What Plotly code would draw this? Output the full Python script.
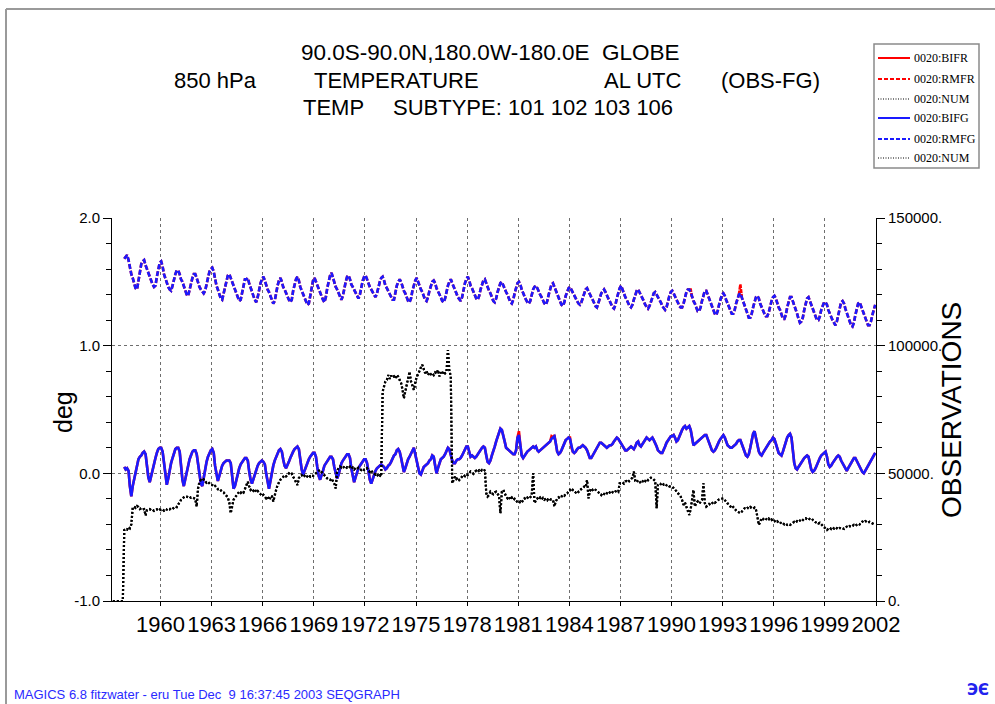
import pandas as pd
import plotly.graph_objects as go

# ---------------- data (monthly, Mar 1957 .. Dec 2001) ----------------
N = None
rmfg = [  # RMS of OBS-FG, deg (0020:RMFG)
    N, N, N, N, N, N, N, N, 1.68, 1.70,
    1.71, 1.67, 1.60, 1.56, 1.53, 1.48, 1.45, 1.44, 1.52, 1.58, 1.64, 1.66,
    1.67, 1.63, 1.60, 1.57, 1.54, 1.50, 1.48, 1.46, 1.47, 1.54, 1.60, 1.65,
    1.66, 1.62, 1.56, 1.52, 1.50, 1.46, 1.44, 1.43, 1.47, 1.52, 1.56, 1.59,
    1.59, 1.56, 1.52, 1.50, 1.46, 1.42, 1.40, 1.39, 1.44, 1.49, 1.53, 1.56,
    1.56, 1.53, 1.49, 1.46, 1.44, 1.42, 1.41, 1.43, 1.49, 1.54, 1.58, 1.60,
    1.61, 1.58, 1.52, 1.47, 1.44, 1.40, 1.37, 1.36, 1.41, 1.47, 1.52, 1.55,
    1.56, 1.53, 1.49, 1.46, 1.43, 1.40, 1.37, 1.35, 1.36, 1.42, 1.48, 1.52,
    1.52, 1.53, 1.49, 1.45, 1.43, 1.39, 1.36, 1.34, 1.38, 1.44, 1.49, 1.52,
    1.54, 1.51, 1.47, 1.44, 1.42, 1.39, 1.36, 1.33, 1.35, 1.42, 1.47, 1.51,
    1.53, 1.50, 1.46, 1.44, 1.41, 1.38, 1.36, 1.34, 1.36, 1.43, 1.48, 1.52,
    1.54, 1.51, 1.46, 1.43, 1.41, 1.38, 1.35, 1.32, 1.33, 1.40, 1.46, 1.51,
    1.53, 1.50, 1.47, 1.44, 1.42, 1.39, 1.36, 1.34, 1.38, 1.45, 1.51, 1.55,
    1.57, 1.53, 1.49, 1.46, 1.44, 1.41, 1.38, 1.36, 1.39, 1.45, 1.50, 1.54,
    1.55, 1.52, 1.48, 1.46, 1.44, 1.41, 1.39, 1.37, 1.40, 1.46, 1.51, 1.54,
    1.55, 1.52, 1.48, 1.46, 1.44, 1.42, 1.39, 1.38, 1.41, 1.46, 1.50, 1.53,
    1.54, 1.51, 1.47, 1.45, 1.43, 1.40, 1.38, 1.36, 1.36, 1.42, 1.47, 1.50,
    1.52, 1.50, 1.46, 1.43, 1.41, 1.38, 1.35, 1.34, 1.37, 1.43, 1.48, 1.51,
    1.53, 1.50, 1.46, 1.44, 1.42, 1.39, 1.36, 1.35, 1.38, 1.43, 1.47, 1.50,
    1.51, 1.49, 1.45, 1.43, 1.41, 1.38, 1.35, 1.34, 1.37, 1.43, 1.47, 1.50,
    1.52, 1.49, 1.46, 1.44, 1.41, 1.38, 1.36, 1.35, 1.38, 1.44, 1.49, 1.52,
    1.54, 1.51, 1.47, 1.45, 1.42, 1.39, 1.37, 1.36, 1.39, 1.44, 1.48, 1.51,
    1.52, 1.49, 1.45, 1.43, 1.41, 1.38, 1.35, 1.34, 1.37, 1.42, 1.46, 1.49,
    1.50, 1.47, 1.44, 1.42, 1.40, 1.37, 1.34, 1.33, 1.36, 1.41, 1.46, 1.49,
    1.50, 1.48, 1.44, 1.41, 1.39, 1.36, 1.34, 1.33, 1.35, 1.40, 1.44, 1.46,
    1.47, 1.45, 1.42, 1.40, 1.38, 1.35, 1.33, 1.32, 1.35, 1.40, 1.45, 1.48,
    1.49, 1.46, 1.43, 1.40, 1.38, 1.35, 1.32, 1.31, 1.34, 1.39, 1.43, 1.45,
    1.46, 1.44, 1.41, 1.39, 1.37, 1.35, 1.33, 1.32, 1.34, 1.38, 1.42, 1.44,
    1.45, 1.43, 1.40, 1.38, 1.36, 1.33, 1.31, 1.30, 1.33, 1.37, 1.41, 1.43,
    1.44, 1.42, 1.39, 1.37, 1.35, 1.32, 1.30, 1.29, 1.32, 1.37, 1.42, 1.45,
    1.47, 1.44, 1.40, 1.38, 1.36, 1.33, 1.31, 1.30, 1.32, 1.36, 1.40, 1.43,
    1.44, 1.42, 1.39, 1.37, 1.35, 1.32, 1.30, 1.29, 1.31, 1.35, 1.39, 1.41,
    1.42, 1.40, 1.37, 1.35, 1.34, 1.31, 1.29, 1.28, 1.30, 1.35, 1.39, 1.42,
    1.43, 1.41, 1.38, 1.36, 1.34, 1.31, 1.30, 1.30, 1.33, 1.38, 1.42, 1.44,
    1.44, 1.42, 1.38, 1.35, 1.33, 1.29, 1.27, 1.27, 1.30, 1.35, 1.40, 1.43,
    1.43, 1.40, 1.36, 1.33, 1.31, 1.27, 1.25, 1.24, 1.27, 1.32, 1.37, 1.40,
    1.41, 1.39, 1.36, 1.33, 1.31, 1.28, 1.25, 1.25, 1.28, 1.33, 1.37, 1.40,
    1.41, 1.38, 1.34, 1.31, 1.28, 1.25, 1.22, 1.22, 1.25, 1.30, 1.35, 1.38,
    1.39, 1.37, 1.33, 1.30, 1.28, 1.25, 1.23, 1.23, 1.26, 1.31, 1.35, 1.38,
    1.39, 1.37, 1.33, 1.30, 1.28, 1.24, 1.21, 1.21, 1.24, 1.30, 1.35, 1.38,
    1.38, 1.35, 1.31, 1.28, 1.25, 1.21, 1.18, 1.19, 1.22, 1.28, 1.33, 1.37,
    1.38, 1.35, 1.31, 1.28, 1.26, 1.22, 1.20, 1.20, 1.23, 1.28, 1.32, 1.34,
    1.34, 1.32, 1.28, 1.25, 1.23, 1.20, 1.18, 1.16, 1.19, 1.25, 1.30, 1.34,
    1.35, 1.33, 1.29, 1.26, 1.23, 1.19, 1.16, 1.15, 1.18, 1.24, 1.29, 1.33,
    1.34, 1.31, 1.27, 1.24, 1.22, 1.19, 1.16, 1.16, 1.19, 1.24, 1.28, 1.32,
]

bifg = [  # mean OBS-FG, deg (0020:BIFG)
    N, N, N, N, N, N, N, N, 0.05, 0.03,
    0.04, 0.02, -0.10, -0.18, -0.10, -0.04, 0.02, 0.08, 0.11, 0.13, 0.14, 0.16,
    0.17, 0.15, 0.06, -0.03, -0.07, -0.02, 0.04, 0.09, 0.12, 0.16, 0.19, 0.20,
    0.20, 0.17, 0.07, -0.04, -0.09, -0.04, 0.03, 0.08, 0.12, 0.16, 0.19, 0.20,
    0.20, 0.17, 0.06, -0.05, -0.10, -0.05, 0.02, 0.07, 0.11, 0.14, 0.17, 0.18,
    0.18, 0.15, 0.08, 0.00, -0.08, -0.10, -0.03, 0.04, 0.09, 0.13, 0.16, 0.18,
    0.19, 0.16, 0.06, -0.02, -0.06, -0.02, 0.03, 0.06, 0.08, 0.09, 0.10, 0.10,
    0.10, 0.08, 0.00, -0.12, -0.10, -0.05, 0.00, 0.04, 0.07, 0.09, 0.11, 0.12,
    0.12, 0.10, 0.02, -0.05, -0.08, -0.04, 0.00, 0.03, 0.06, 0.08, 0.09, 0.10,
    0.09, 0.07, 0.00, -0.08, -0.12, -0.06, 0.01, 0.06, 0.10, 0.13, 0.16, 0.18,
    0.19, 0.17, 0.11, 0.06, 0.04, 0.06, 0.09, 0.12, 0.15, 0.17, 0.19, 0.20,
    0.21, 0.19, 0.11, 0.03, -0.01, 0.02, 0.06, 0.09, 0.11, 0.13, 0.15, 0.16,
    0.16, 0.13, 0.05, -0.02, -0.05, -0.02, 0.02, 0.06, 0.08, 0.10, 0.12, 0.13,
    0.13, 0.11, 0.05, -0.01, -0.04, -0.01, 0.04, 0.08, 0.10, 0.12, 0.14, 0.15,
    0.15, 0.12, 0.04, -0.03, -0.07, -0.03, 0.01, 0.04, 0.06, 0.08, 0.10, 0.11,
    0.11, 0.08, 0.02, -0.05, -0.08, -0.04, -0.01, 0.02, 0.04, 0.05, 0.06, 0.07,
    0.06, 0.05, 0.03, 0.04, 0.06, 0.07, 0.09, 0.12, 0.14, 0.15, 0.18, 0.19,
    0.17, 0.12, 0.05, 0.01, 0.04, 0.08, 0.11, 0.13, 0.15, 0.18, 0.20, 0.15,
    0.10, 0.05, 0.00, -0.01, 0.02, 0.05, 0.06, 0.07, 0.08, 0.10, 0.11, 0.14,
    0.13, 0.06, 0.00, 0.04, 0.08, 0.11, 0.12, 0.13, 0.15, 0.18, 0.20, 0.19,
    0.14, 0.10, 0.08, 0.08, 0.10, 0.11, 0.11, 0.12, 0.14, 0.16, 0.19, 0.21,
    0.21, 0.17, 0.13, 0.14, 0.13, 0.12, 0.13, 0.15, 0.16, 0.18, 0.20, 0.21,
    0.20, 0.14, 0.09, 0.08, 0.10, 0.14, 0.17, 0.21, 0.25, 0.29, 0.33, 0.35,
    0.34, 0.30, 0.25, 0.20, 0.19, 0.18, 0.17, 0.16, 0.15, 0.15, 0.18, 0.28,
    0.30, 0.22, 0.14, 0.12, 0.14, 0.16, 0.17, 0.18, 0.19, 0.20, 0.21, 0.20,
    0.21, 0.18, 0.17, 0.18, 0.19, 0.20, 0.21, 0.22, 0.23, 0.24, 0.25, 0.27,
    0.28, 0.29, 0.24, 0.17, 0.15, 0.16, 0.18, 0.21, 0.24, 0.26, 0.27, 0.28,
    0.27, 0.20, 0.17, 0.16, 0.17, 0.19, 0.20, 0.20, 0.21, 0.22, 0.21, 0.20,
    0.18, 0.14, 0.12, 0.12, 0.14, 0.17, 0.19, 0.21, 0.22, 0.24, 0.24, 0.23,
    0.22, 0.21, 0.20, 0.21, 0.22, 0.22, 0.23, 0.25, 0.27, 0.28, 0.27, 0.25,
    0.24, 0.21, 0.19, 0.18, 0.18, 0.19, 0.20, 0.21, 0.20, 0.19, 0.21, 0.24,
    0.25, 0.22, 0.21, 0.23, 0.25, 0.27, 0.28, 0.27, 0.26, 0.27, 0.28, 0.26,
    0.24, 0.21, 0.18, 0.17, 0.16, 0.16, 0.18, 0.21, 0.24, 0.26, 0.28, 0.29,
    0.29, 0.30, 0.28, 0.25, 0.26, 0.29, 0.32, 0.34, 0.36, 0.37, 0.35, 0.36,
    0.37, 0.34, 0.27, 0.22, 0.23, 0.24, 0.25, 0.26, 0.27, 0.28, 0.29, 0.30,
    0.30, 0.27, 0.23, 0.20, 0.18, 0.17, 0.18, 0.20, 0.23, 0.25, 0.27, 0.29,
    0.30, 0.28, 0.25, 0.22, 0.21, 0.20, 0.20, 0.21, 0.22, 0.23, 0.25, 0.26,
    0.26, 0.23, 0.19, 0.16, 0.14, 0.13, 0.15, 0.20, 0.26, 0.31, 0.33, 0.28,
    0.22, 0.17, 0.15, 0.14, 0.16, 0.18, 0.20, 0.22, 0.23, 0.25, 0.26, 0.28,
    0.27, 0.23, 0.19, 0.16, 0.15, 0.14, 0.17, 0.21, 0.25, 0.28, 0.30, 0.31,
    0.28, 0.18, 0.08, 0.04, 0.03, 0.05, 0.07, 0.09, 0.11, 0.12, 0.13, 0.14,
    0.13, 0.08, 0.03, 0.01, 0.02, 0.04, 0.07, 0.10, 0.12, 0.14, 0.15, 0.16,
    0.17, 0.13, 0.07, 0.05, 0.06, 0.08, 0.10, 0.12, 0.13, 0.14, 0.13, 0.10,
    0.08, 0.05, 0.03, 0.02, 0.04, 0.06, 0.08, 0.10, 0.12, 0.12, 0.10, 0.08,
    0.06, 0.03, 0.01, 0.00, 0.02, 0.04, 0.06, 0.08, 0.10, 0.12, 0.14, 0.16,
]

num_obs = [  # number of observations (0020:NUM), right axis
    0, 0, 0, 0, 0, 0, 0, 0, 27800, 28300,
    28000, 29000, 28500, 30000, 36500, 37000, 36500, 37200, 36800, 36000, 36300, 35800,
    36000, 33500, 35500, 35800, 36000, 35500, 35700, 35300, 35600, 35900, 35400, 35800,
    35600, 35900, 35400, 36000, 35800, 36200, 35900, 36400, 36100, 36600, 37000, 36800,
    38000, 39000, 39600, 40200, 40600, 41000, 40900, 40500, 40800, 40400, 40600, 40200,
    40000, 37000, 44000, 46700, 47400, 47000, 47600, 46800, 46300, 46700, 45900, 45500,
    45400, 44800, 45100, 44300, 43800, 44000, 43300, 42800, 42500, 42000, 41200, 40500,
    38500, 34400, 37500, 39600, 40500, 41200, 42000, 42800, 42300, 43000, 42500, 44000,
    45500, 46700, 45000, 43500, 44000, 43200, 43800, 42600, 43100, 42500, 41800, 42300,
    41500, 41000, 40200, 40800, 39600, 40500, 41200, 39000, 41800, 43500, 45400, 46500,
    47500, 48000, 48500, 49200, 48800, 49500, 50000, 49400, 49800, 48600, 47800, 46500,
    45400, 48200, 48800, 49300, 48500, 49000, 48300, 48900, 49400, 48700, 49200, 49000,
    49400, 50000, 50500, 51000, 51300, 50500, 49800, 49200, 48500, 48000, 47600, 47400,
    48000, 47000, 46000, 44100, 51000, 52000, 52600, 52300, 52800, 52200, 51800, 52400,
    52000, 52600, 51900, 52300, 51500, 52100, 51700, 52200, 51600, 51300, 51800, 51300,
    51500, 52000, 51000, 50600, 51200, 50200, 50000, 49500, 49800, 48700, 49200, 48700,
    82000, 84000, 86000, 86600, 88500, 87000, 88300, 87500, 88000, 87200, 88500, 87800,
    86500, 85300, 83000, 79400, 82000, 85000, 87500, 89800, 86000, 84000, 82700, 85500,
    87900, 88800, 90500, 91500, 92500, 90500, 89200, 90000, 88500, 89500, 88800, 89300,
    88500, 89500, 89000, 90500, 88000, 89500, 88800, 90000, 89200, 89800, 98300, 90500,
    87900, 46100, 47500, 48700, 47800, 48300, 47400, 48200, 48800, 49400, 48900, 49600,
    49400, 50000, 50700, 50300, 49800, 50600, 51000, 50500, 51200, 50700, 51300, 50900,
    51300, 42200, 40900, 41500, 42800, 42200, 41800, 42500, 42800, 42000, 41200, 34400,
    42800, 43500, 42000, 41000, 40200, 40800, 39800, 40500, 39500, 40000, 39200, 38800,
    38300, 39000, 38600, 39500, 40200, 39800, 40500, 40000, 40800, 41200, 50000, 38300,
    39500, 40200, 39600, 40500, 39800, 40400, 39700, 40100, 39500, 40300, 39800, 39600,
    39600, 37000, 39000, 40000, 40600, 40200, 41000, 41500, 41200, 42000, 42200, 43000,
    43500, 42800, 43500, 43000, 42500, 43200, 42700, 43400, 43800, 44300, 44800, 44500,
    47400, 40200, 43000, 44100, 43500, 44000, 43600, 43100, 42600, 42000, 41500, 42300,
    42000, 41500, 42200, 41800, 42500, 42000, 42600, 42300, 42900, 43200, 42800, 46100,
    46100, 46500, 46000, 46800, 47000, 46500, 47200, 47800, 48300, 50700, 47000, 46500,
    47300, 46800, 46100, 46700, 47500, 47000, 47800, 47300, 47900, 48300, 48100, 47600,
    47000, 36300, 45500, 46100, 45800, 46300, 45600, 45900, 45300, 45500, 44900, 44800,
    44800, 44200, 43800, 43000, 42300, 41500, 40900, 39500, 37600, 38500, 37000, 35500,
    33700, 36000, 39600, 43500, 37000, 38500, 39000, 38200, 38800, 39500, 46100, 38300,
    37000, 37500, 38000, 37600, 38300, 38800, 38400, 39000, 39400, 39800, 40000, 40200,
    40200, 39500, 38800, 38200, 37800, 37200, 36300, 36800, 36000, 35500, 35000, 34600,
    34400, 35000, 35800, 36300, 36000, 36500, 36200, 36800, 36400, 36100, 36600, 35800,
    33000, 29800, 31000, 32400, 32000, 32600, 32200, 31800, 32300, 31500, 31900, 31100,
    31400, 30800, 31200, 30600, 30900, 30200, 30500, 30000, 30300, 29800, 30100, 29800,
    30200, 30600, 31000, 30700, 31300, 31000, 31500, 31100, 31800, 32200, 32400, 32000,
    32400, 32000, 31500, 31800, 31200, 30800, 31000, 30400, 30600, 30000, 29500, 29000,
    28500, 27800, 28300, 28700, 28200, 28800, 28400, 28900, 28500, 28100, 28600, 28300,
    28500, 28200, 28700, 29100, 28800, 29300, 29000, 29500, 29800, 29400, 29900, 30300,
    30000, 30600, 31100, 30800, 31300, 31000, 30600, 31000, 30700, 30300, 30000, 29800,
]

# red (FR) series equal the blue (FG) ones except in these months
bifr_changes = {"1981-01": 0.33, "1982-12": 0.29, "1983-02": 0.30, "1984-01": 0.28}
rmfr_changes = {"1991-02": 1.44, "1994-01": 1.48}

x_ticks = list(range(1960, 2003, 3))
x_ticktext = [str(y) for y in x_ticks]
left_ticks = [-1.0, 0.0, 1.0, 2.0]
left_ticktext = ["-1.0", "0.0", "1.0", "2.0"]
right_ticks = [0, 50000, 100000, 150000]
right_ticktext = ["0.", "50000.", "100000.", "150000."]

months = pd.date_range("1957-03-01", "2001-12-01", freq="MS")
assert len(months) == len(rmfg) == len(bifg) == len(num_obs)
x = list(months + pd.Timedelta(days=14))
keys = [m.strftime("%Y-%m") for m in months]

bifr = [bifr_changes.get(k, v) for k, v in zip(keys, bifg)]
rmfr = [rmfr_changes.get(k, v) for k, v in zip(keys, rmfg)]

# ---------------- figure ----------------
L, R, T, B = 112, 876, 218, 601
W, H = R - L, B - T
def fx(p): return (p - L) / W
def fy(p): return (B - p) / H

RED = "#ff0000"
BLUE = "#1a1aff"
LW = 2.6
DASH = "5px,2px"
DOT = "2px,2px"
fig = go.Figure()
fig.add_trace(go.Scatter(x=x, y=bifr, mode="lines", line=dict(color=RED, width=LW), name="0020:BIFR"))
# RMFR: where it equals RMFG it is drawn with the same dash phase (hidden under blue);
# the months where it differs are drawn as short red segments.
fig.add_trace(go.Scatter(x=x, y=[g if k not in rmfr_changes else g for k, g in zip(keys, rmfg)],
                         mode="lines", line=dict(color=RED, width=LW, dash=DASH), name="0020:RMFR"))
for k in rmfr_changes:
    i = keys.index(k)
    fig.add_trace(go.Scatter(x=x[i - 1:i + 2], y=rmfr[i - 1:i + 2], mode="lines",
                             line=dict(color=RED, width=LW, dash="4px,1px"), showlegend=False))
fig.add_trace(go.Scatter(x=x, y=num_obs, yaxis="y2", mode="lines", line=dict(color="black", width=2.2, dash=DOT), name="0020:NUM"))
fig.add_trace(go.Scatter(x=x, y=bifg, mode="lines", line=dict(color=BLUE, width=LW), name="0020:BIFG"))
fig.add_trace(go.Scatter(x=x, y=rmfg, mode="lines", line=dict(color=BLUE, width=LW, dash=DASH), name="0020:RMFG"))
fig.add_trace(go.Scatter(x=x, y=num_obs, yaxis="y2", mode="lines", line=dict(color="black", width=2.2, dash=DOT), name="0020:NUM"))

GRID = dict(showgrid=True, gridcolor="#6e6e6e", gridwidth=1, griddash="dot")
fig.update_layout(
    width=995, height=704,
    margin=dict(l=L, r=995 - R, t=T, b=704 - B, pad=0),
    paper_bgcolor="white", plot_bgcolor="white",
    showlegend=False,
    font=dict(family="Liberation Sans, Arial, sans-serif", color="black"),
    xaxis=dict(type="date", range=["1957-02-25", "2002-01-01"],
               tickvals=[f"{y}-01-01" for y in x_ticks], ticktext=x_ticktext,
               ticks="outside", ticklen=4, tickcolor="black",
               tickfont=dict(family="Liberation Sans Narrow, Liberation Sans, Arial", size=22),
               showline=True, linecolor="black", linewidth=1, zeroline=False, **GRID),
    yaxis=dict(range=[-1, 2], tickvals=left_ticks, ticktext=left_ticktext,
               ticks="outside", ticklen=8, tickcolor="black", tickfont=dict(size=15),
               minor=dict(dtick=0.2, ticks="outside", ticklen=5, tickcolor="black", showgrid=False),
               showline=True, linecolor="black", linewidth=1, zeroline=False, **GRID),
    yaxis2=dict(range=[0, 150000], overlaying="y", side="right",
                tickvals=right_ticks, ticktext=right_ticktext,
                ticks="outside", ticklen=8, tickcolor="black", tickfont=dict(size=15),
                minor=dict(dtick=10000, ticks="outside", ticklen=5, tickcolor="black", showgrid=False),
                showline=True, linecolor="black", linewidth=1, zeroline=False, showgrid=False),
)

ann = []
def text(px, py, s, size=22, anchor="left", family="Liberation Sans, Arial", color="black", angle=0):
    ann.append(dict(x=fx(px), y=fy(py), xref="paper", yref="paper", text=s, showarrow=False,
                    xanchor=anchor, yanchor="middle", textangle=angle,
                    font=dict(size=size, family=family, color=color)))

NB = "\u00a0"
text(299, 52, "90.0S-90.0N,180.0W-180.0E" + NB * 2 + "GLOBE", size=22.5)
text(172, 80, "850 hPa")
text(312, 80, "TEMPERATURE")
text(602, 80, "AL UTC")
text(719, 80, "(OBS-FG)")
text(301, 108, "TEMP")
text(391, 108, "SUBTYPE: 101 102 103 106")
text(63, 412, "deg", size=25, anchor="center", family="Liberation Sans Narrow, Liberation Sans", angle=-90)
text(951, 410, "OBSERVATIONS", size=28, anchor="center", family="Liberation Sans Narrow, Liberation Sans", angle=-90)
text(12, 694, "MAGICS 6.8 fitzwater - eru Tue Dec" + NB * 2 + "9 16:37:45 2003 SEQGRAPH", size=13, color="#2a2aff")
text(978, 690, "<b>ЭЄ</b>", size=15, anchor="center", family="DejaVu Sans", color="#2222ee")

shapes = []
# page frame
shapes.append(dict(type="line", xref="paper", yref="paper", x0=fx(6), x1=fx(1000), y0=fy(9), y1=fy(9),
                   line=dict(color="#9a9a9a", width=2)))
shapes.append(dict(type="line", xref="paper", yref="paper", x0=fx(6), x1=fx(6), y0=fy(9), y1=fy(710),
                   line=dict(color="#9a9a9a", width=2)))
# legend box
shapes.append(dict(type="rect", xref="paper", yref="paper", x0=fx(874), x1=fx(979), y0=fy(44), y1=fy(168),
                   line=dict(color="#8a8a8a", width=1.5), fillcolor="white"))
legend_items = [("0020:BIFR", RED, "solid", 2), ("0020:RMFR", RED, "4px,2px", 2),
                ("0020:NUM", "black", "1px,1.5px", 1.2), ("0020:BIFG", BLUE, "solid", 2),
                ("0020:RMFG", BLUE, "4px,2px", 2), ("0020:NUM", "black", "1px,1.5px", 1.2)]
legend_y = [58, 79, 99, 118, 139, 158]
for (name, col, dash, wd), ly in zip(legend_items, legend_y):
    shapes.append(dict(type="line", xref="paper", yref="paper", x0=fx(878), x1=fx(910), y0=fy(ly), y1=fy(ly),
                       line=dict(color=col, width=wd, dash=dash)))
    text(912, ly, name, size=12, family="Liberation Serif, Times New Roman, serif")

fig.update_layout(annotations=ann, shapes=shapes)
fig.write_html("out.html", config={"displayModeBar": False},
               post_script="document.body.style.margin='0';document.body.style.overflow='hidden';")
